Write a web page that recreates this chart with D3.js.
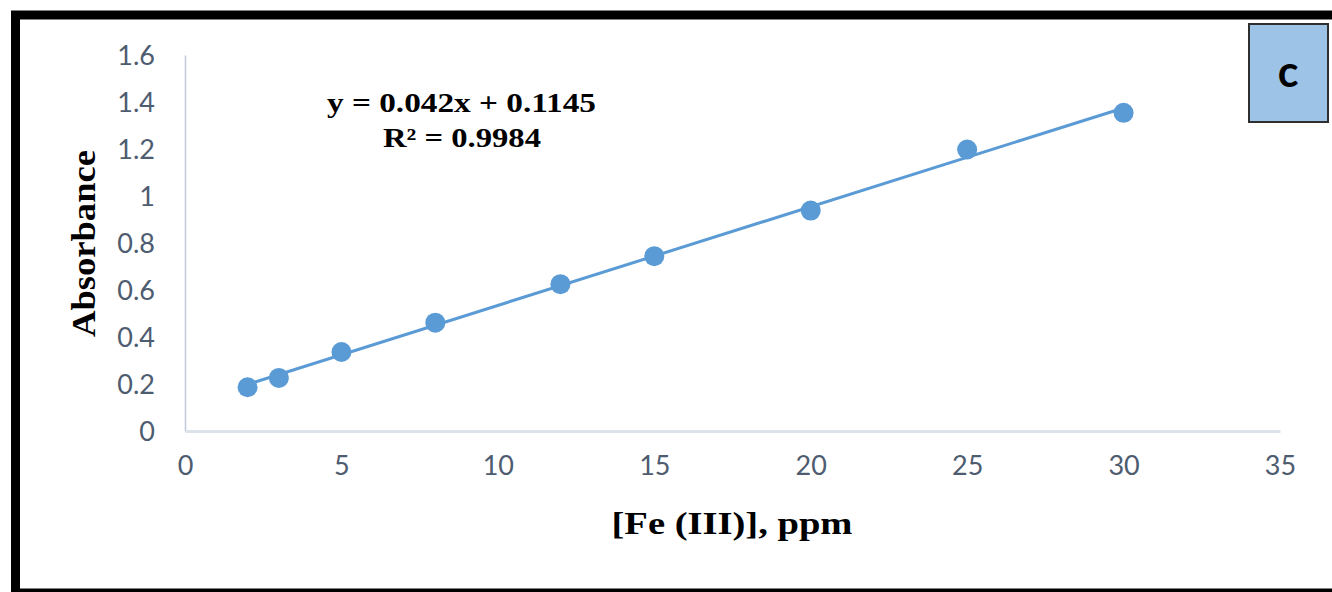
<!DOCTYPE html>
<html>
<head>
<meta charset="utf-8">
<script src="https://cdn.jsdelivr.net/npm/d3@7"></script>
<style>
  html, body { margin: 0; padding: 0; background: #fff; }
  svg { display: block; }
</style>
</head>
<body>
<svg id="chart" width="1332" height="592"></svg>
<script>
// ---- data ----
const concentrations = [2, 3, 5, 8, 12, 15, 20, 25, 30];
const absorbances = [0.186, 0.226, 0.336, 0.461, 0.625, 0.744, 0.938, 1.198, 1.354];
const xTicks = [0, 5, 10, 15, 20, 25, 30, 35];
const yTicks = [0, 0.2, 0.4, 0.6, 0.8, 1, 1.2, 1.4, 1.6];
const slope = 0.042;
const intercept = 0.1145;
const trendRange = [2, 30];
const equationText = "y = 0.042x + 0.1145";
const r2Text = "R² = 0.9984";
const panelLabel = "c";
const xTitle = "[Fe (III)], ppm";
const yTitle = "Absorbance";

const svg = d3.select("#chart");
const W = 1332, H = 592;

svg.append("rect").attr("x", 0).attr("y", 0).attr("width", W).attr("height", H).attr("fill", "#fff");

// outer frame (right edge falls outside the picture)
svg.append("rect")
  .attr("x", 15.5).attr("y", 15).attr("width", 1400).attr("height", 578)
  .attr("fill", "none").attr("stroke", "#000").attr("stroke-width", 9);

const x = d3.scaleLinear().domain([0, 35]).range([185, 1280]);
const y = d3.scaleLinear().domain([0, 1.6]).range([431, 55]);

const tickColor = "#4E5C70";
const tickFont = "Lato, 'Open Sans', sans-serif";

// y axis
const yAxis = svg.append("g").attr("transform", `translate(${x(0)},0)`)
  .call(d3.axisLeft(y).tickValues(yTicks).tickSize(0).tickPadding(30).tickFormat(d => String(+d.toFixed(1))));
yAxis.select(".domain").attr("stroke", "#C3CDDB").attr("stroke-width", 1.6);
yAxis.selectAll("text").attr("fill", tickColor).attr("font-family", tickFont).attr("font-size", 27).attr("dy", "0.36em");

// x axis
const xAxis = svg.append("g").attr("transform", `translate(0,${y(0)})`)
  .call(d3.axisBottom(x).tickValues(xTicks).tickSize(0).tickPadding(32).tickFormat(d3.format("d")));
xAxis.select(".domain").attr("stroke", "#DCE2EA").attr("stroke-width", 3);
xAxis.selectAll("text").attr("fill", tickColor).attr("font-family", tickFont).attr("font-size", 27).attr("dy", "0.45em");

// trendline
const trend = trendRange.map(v => [v, slope * v + intercept]);
svg.append("path")
  .datum(trend)
  .attr("d", d3.line().x(d => x(d[0])).y(d => y(d[1])))
  .attr("stroke", "#5B9BD5").attr("stroke-width", 3).attr("fill", "none");

// points
const pts = concentrations.map((c, i) => [c, absorbances[i]]);
svg.append("g").selectAll("circle").data(pts).enter().append("circle")
  .attr("cx", d => x(d[0])).attr("cy", d => y(d[1])).attr("r", 10)
  .attr("fill", "#5B9BD5");

// equation labels
const serif = "'Liberation Serif', 'Times New Roman', serif";
svg.append("text").attr("x", 461.5).attr("y", 112).attr("text-anchor", "middle")
  .attr("font-family", serif).attr("font-weight", "bold").attr("font-size", 26.5)
  .attr("textLength", 269).attr("lengthAdjust", "spacingAndGlyphs")
  .attr("fill", "#000").text(equationText);
svg.append("text").attr("x", 462).attr("y", 147).attr("text-anchor", "middle")
  .attr("font-family", serif).attr("font-weight", "bold").attr("font-size", 26.5)
  .attr("textLength", 158).attr("lengthAdjust", "spacingAndGlyphs")
  .attr("fill", "#000").text(r2Text);

// axis titles
svg.append("text").attr("x", 732).attr("y", 534).attr("text-anchor", "middle")
  .attr("font-family", serif).attr("font-weight", "bold").attr("font-size", 31)
  .attr("textLength", 241).attr("lengthAdjust", "spacingAndGlyphs")
  .attr("fill", "#000").text(xTitle);
svg.append("text").attr("transform", "translate(95,243.5) rotate(-90)").attr("text-anchor", "middle")
  .attr("font-family", serif).attr("font-weight", "bold").attr("font-size", 33)
  .attr("textLength", 187).attr("lengthAdjust", "spacingAndGlyphs")
  .attr("fill", "#000").text(yTitle);

// panel label box
svg.append("rect").attr("x", 1249).attr("y", 24).attr("width", 79).attr("height", 98)
  .attr("fill", "#9DC3E6").attr("stroke", "#2F2F2F").attr("stroke-width", 2);
svg.append("text").attr("x", 1288).attr("y", 87).attr("text-anchor", "middle")
  .attr("font-family", "Lato, 'Open Sans', sans-serif").attr("font-weight", "bold").attr("font-size", 43)
  .attr("fill", "#000").text(panelLabel);
</script>
</body>
</html>
